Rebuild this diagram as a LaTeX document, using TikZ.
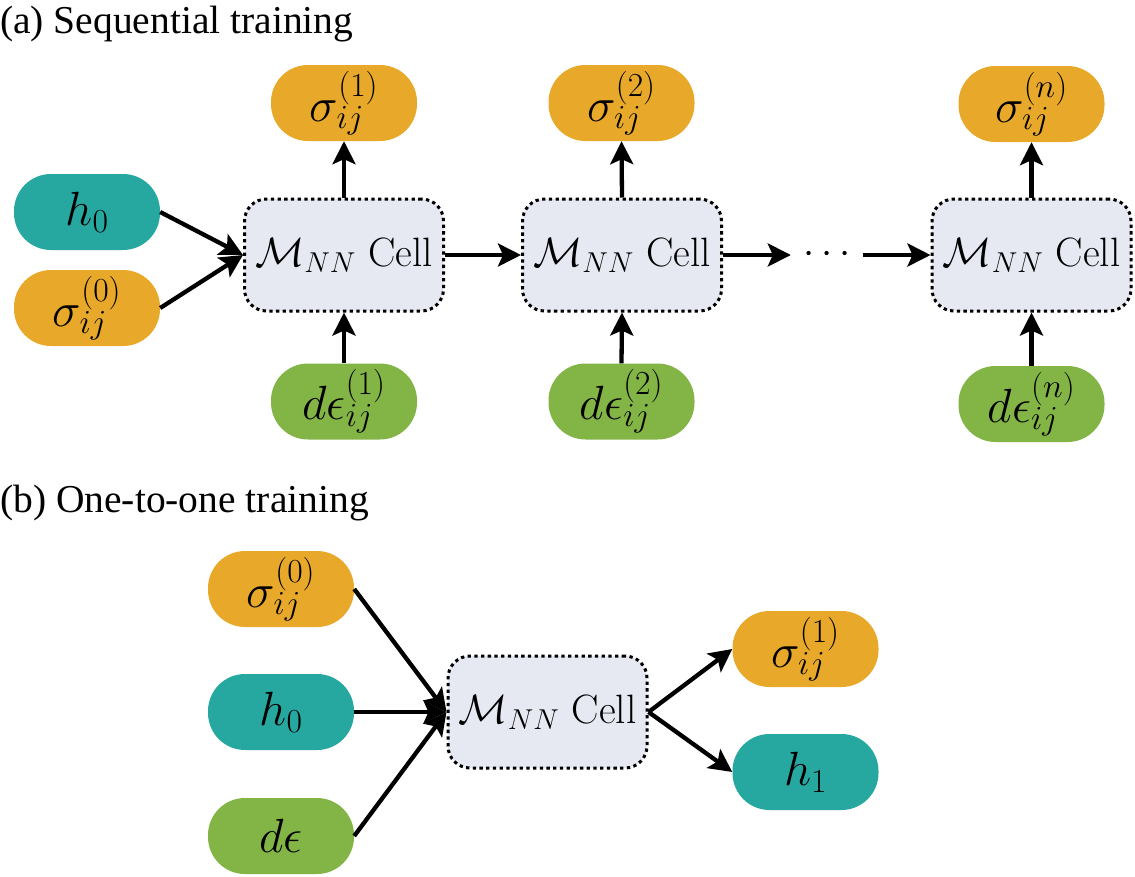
\RequirePackage{fix-cm}
\documentclass[tikz,border=0pt]{standalone}
\usepackage{fontspec}
\newfontfamily\titlefont{Liberation Serif}
\usetikzlibrary{arrows.meta}
\definecolor{tealc}{RGB}{38,168,160}
\definecolor{orangec}{RGB}{232,169,43}
\definecolor{greenc}{RGB}{130,180,70}
\definecolor{cellc}{RGB}{230,232,242}
\begin{document}
\begin{tikzpicture}[x=1pt,y=-1pt,
 pill/.style={rectangle, rounded corners=37pt, minimum width=146pt, minimum height=76pt, inner sep=0pt, font=\fontsize{48}{58}\selectfont},
 tealpill/.style={pill, fill=tealc},
 orangepill/.style={pill, fill=orangec},
 greenpill/.style={pill, fill=greenc},
 cell/.style={rectangle, rounded corners=22pt, fill=cellc, draw=black, line width=3pt, dash pattern=on 3.3pt off 3.4pt, minimum width=199pt, minimum height=112pt, inner sep=0pt, font=\fontsize{41}{49}\selectfont},
 arr/.style={-{Stealth[length=23pt,width=23pt,inset=5pt]}, line width=4.3pt},
 heading/.style={anchor=base west, inner sep=0pt, font=\titlefont\fontsize{39.5}{47}\selectfont}
]
\useasboundingbox (0,0) rectangle (1135,876);

% (a) Sequential training
\node[heading] (ta) at (0,33) {(a) Sequential training};

\node[tealpill] (h0a) at (87,212) {$h_0$};
\node[orangepill] (s0a) at (87,308) {$\sigma_{ij}^{(0)}$};

\node[cell] (c1) at (344,255) {$\mathcal{M}_{NN}$ Cell};
\node[cell] (c2) at (622,255) {$\mathcal{M}_{NN}$ Cell};
\node[cell] (cn) at (1031.5,255) {$\mathcal{M}_{NN}$ Cell};
\node[inner sep=0pt, minimum width=72pt, minimum height=20pt, font=\fontsize{40}{48}\selectfont] (dots) at (827,255) {$\cdots$};

\node[orangepill] (s1) at (344,103) {$\sigma_{ij}^{(1)}$};
\node[orangepill] (s2) at (621.5,103) {$\sigma_{ij}^{(2)}$};
\node[orangepill] (sn) at (1031.5,104) {$\sigma_{ij}^{(n)}$};

\node[greenpill] (d1) at (344,401.5) {$d\epsilon_{ij}^{(1)}$};
\node[greenpill] (d2) at (621.5,401.5) {$d\epsilon_{ij}^{(2)}$};
\node[greenpill] (dn) at (1031.5,404) {$d\epsilon_{ij}^{(n)}$};

\draw[arr] (h0a.east) -- (c1.west);
\draw[arr] (s0a.east) -- (c1.west);
\draw[arr] (c1.east) -- (c2.west);
\draw[arr] (c2.east) -- (dots.west);
\draw[arr] (dots.east) -- (cn.west);
\draw[arr] (c1.north) -- (s1.south);
\draw[arr] (c2.north) -- (s2.south);
\draw[arr] (cn.north) -- (sn.south);
\draw[arr] (d1.north) -- (c1.south);
\draw[arr] (d2.north) -- (c2.south);
\draw[arr] (dn.north) -- (cn.south);

% (b) One-to-one training
\node[heading] (tb) at (0,512) {(b) One-to-one training};

\node[orangepill] (bs0) at (281,589) {$\sigma_{ij}^{(0)}$};
\node[tealpill] (bh0) at (281,712) {$h_0$};
\node[greenpill] (bde) at (281,836) {$d\epsilon$};
\node[cell] (cb) at (547.5,712) {$\mathcal{M}_{NN}$ Cell};
\node[orangepill] (bs1) at (805.5,649) {$\sigma_{ij}^{(1)}$};
\node[tealpill] (bh1) at (805.5,772) {$h_1$};

\draw[arr] (bs0.east) -- (cb.west);
\draw[arr] (bh0.east) -- (cb.west);
\draw[arr] (bde.east) -- (cb.west);
\draw[arr] (cb.east) -- (bs1.west);
\draw[arr] (cb.east) -- (bh1.west);
\end{tikzpicture}
\end{document}
